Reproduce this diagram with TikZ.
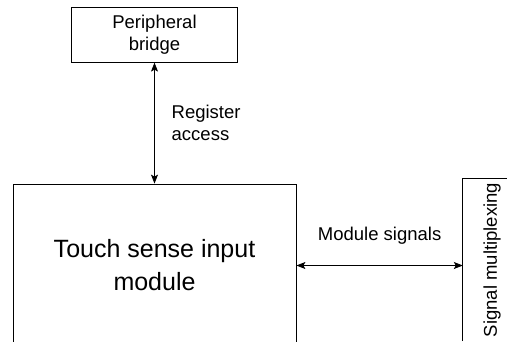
\documentclass[tikz,border=0pt]{standalone}
\usepackage{fontspec}
\setmainfont{Liberation Sans}
\usetikzlibrary{positioning, arrows.meta, calc}

\begin{document}
\begin{tikzpicture}[x=1pt, y=-1pt]
    \tikzstyle{block} = [draw, rectangle, line width=0.8pt, inner sep=0pt, align=center];
    \tikzstyle{small} = [font=\fontsize{18.5}{22}\selectfont];
    \tikzstyle{big} = [font=\fontsize{25}{33}\selectfont];
    \tikzstyle{link} = [line width=0.8pt, {Stealth[length=9pt, width=7pt, inset=2pt]}-{Stealth[length=9pt, width=7pt, inset=2pt]}];

    \useasboundingbox (0, 0) rectangle (507, 341);
    \clip (0, 0) rectangle (507, 341);

    \node[block, big, minimum width=283pt, minimum height=163pt] (tsi) at (154.5, 265.5) {Touch sense input\\module};
    \node[block, small, minimum width=166pt, minimum height=55pt, above=121pt of tsi] (pb) {Peripheral\\bridge};
    % open on the right and at the bottom
    \node[small, inner sep=0pt, rotate=90, minimum width=162pt, minimum height=58pt] (mux) at (492, 260) {Signal multiplexing};
    \draw[line width=0.8pt] (mux.north west) -- (mux.north east) -- (mux.south east);

    \draw[link] (pb) -- (tsi);
    \draw[link] (tsi.east) -- (tsi.east -| mux.north);

    \coordinate (regmid) at ($(pb.south)!0.5!(tsi.north)$);
    \coordinate (sigmid) at ($(tsi.east)!0.5!(tsi.east -| mux.north)$);

    \node[small, align=left, inner sep=0pt, right=17pt of regmid] (reg) {Register\\access};
    \node[small, inner sep=0pt, above=21pt of sigmid] (sig) {Module signals};
\end{tikzpicture}
\end{document}
